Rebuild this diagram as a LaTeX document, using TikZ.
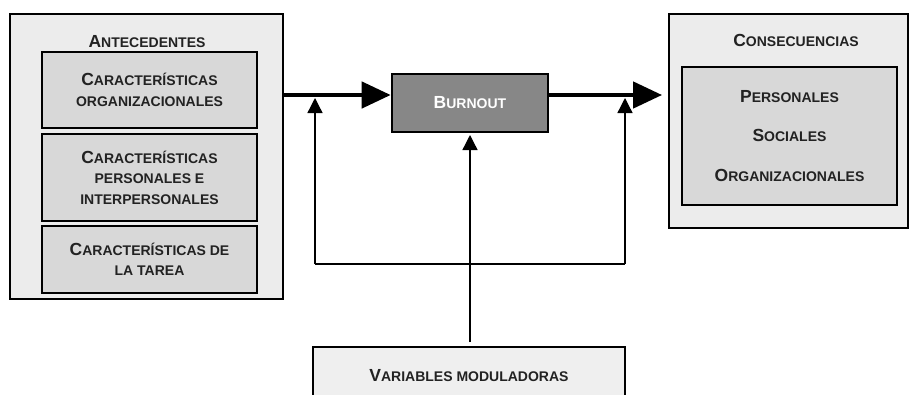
\documentclass[tikz,border=0pt]{standalone}
\usepackage{fontspec}
\setmainfont{Liberation Sans}
\usetikzlibrary{arrows.meta}
\definecolor{outerfill}{HTML}{ECECEC}
\definecolor{innerfill}{HTML}{D8D8D8}
\definecolor{burnfill}{HTML}{878787}
\definecolor{varfill}{HTML}{EFEFEF}
\definecolor{ink}{HTML}{222222}
% hand-made small capitals: large initial, smaller capitals for the rest
\newcommand\capA[1]{{\fontsize{17.5}{20}\selectfont #1}}
\newcommand\capB[1]{{\fontsize{14}{20}\selectfont #1}}
\begin{document}
\begin{tikzpicture}[x=1pt,y=-1pt,
  outerbox/.style={draw=black,line width=1.8pt,fill=outerfill,inner sep=0pt},
  innerbox/.style={draw=black,line width=2.6pt,fill=innerfill,inner sep=0pt,
    align=center,text=ink,font={\bfseries\fontsize{14}{20.5}\selectfont}},
  label/.style={text=ink,font={\bfseries\fontsize{14}{20}\selectfont},inner sep=0pt},
  thick arrow/.style={line width=4.5pt,-{Triangle[length=29pt,width=26pt]}},
  thin arrow/.style={line width=1.3pt,-{Triangle[length=15pt,width=15pt]}},
  thin line/.style={line width=1.3pt}]
\clip (0,0) rectangle (910,394);
\fill[white] (0,0) rectangle (910,394);

% antecedents
\node[outerbox,minimum width=273pt,minimum height=285pt] (ante) at (146.5,156.5) {};
\node[label,anchor=base] (antet) at (147,47) {\capA{A}\capB{NTECEDENTES}};
\node[innerbox,minimum width=215pt,minimum height=76pt] (org) at (149.5,90)
  {\capA{C}\capB{ARACTERÍSTICAS}\\\capB{ORGANIZACIONALES}};
\node[innerbox,minimum width=215pt,minimum height=87pt] (per) at (149.5,177.5)
  {\capA{C}\capB{ARACTERÍSTICAS}\\\capB{PERSONALES E}\\\capB{INTERPERSONALES}};
\node[innerbox,minimum width=215pt,minimum height=67pt] (tar) at (149.5,259.5)
  {\capA{C}\capB{ARACTERÍSTICAS DE}\\\capB{LA TAREA}};

% burnout
\node[draw=black,line width=2.6pt,fill=burnfill,minimum width=156pt,minimum height=58pt,
  text=white,font=\bfseries,inner sep=0pt] (burn) at (470,103) {\capA{B}\capB{URNOUT}};

% consequences
\node[outerbox,minimum width=239pt,minimum height=214pt] (cons) at (788.5,121) {};
\node[label,anchor=base] (const) at (796,46) {\capA{C}\capB{ONSECUENCIAS}};
\node[innerbox,minimum width=215pt,minimum height=138pt,
  font={\bfseries\fontsize{14}{39.5}\selectfont}] (consin) at (789.5,136)
  {\capA{P}\capB{ERSONALES}\\\capA{S}\capB{OCIALES}\\\capA{O}\capB{RGANIZACIONALES}};

% moderating variables
\node[outerbox,fill=varfill,line width=2.6pt,minimum width=312pt,minimum height=56pt] (var) at (469,375) {};
\node[label,anchor=base] (vart) at (469,381) {\capA{V}\capB{ARIABLES MODULADORAS}};

% main flow
\coordinate (a1) at (ante.east |- 0,95);
\coordinate (b1) at (burn.west |- 0,95);
\coordinate (b2) at (burn.east |- 0,95);
\coordinate (c1) at (cons.west |- 0,95);
\draw[thick arrow] (a1) -- (b1);
\draw[thick arrow,shorten >=6pt] (b2) -- (c1);

% moderating paths
\coordinate (lt) at (315,98);
\coordinate (lb) at (315,264);
\coordinate (rt) at (625,98);
\coordinate (rb) at (625,264);
\coordinate (vtop) at (470,342);
\draw[thin arrow] (lb) -- (lt);
\draw[thin line] (lb) -- (rb);
\draw[thin arrow] (rb) -- (rt);
\draw[thin arrow] (vtop) -- (burn.south |- 0,135);
\end{tikzpicture}
\end{document}
